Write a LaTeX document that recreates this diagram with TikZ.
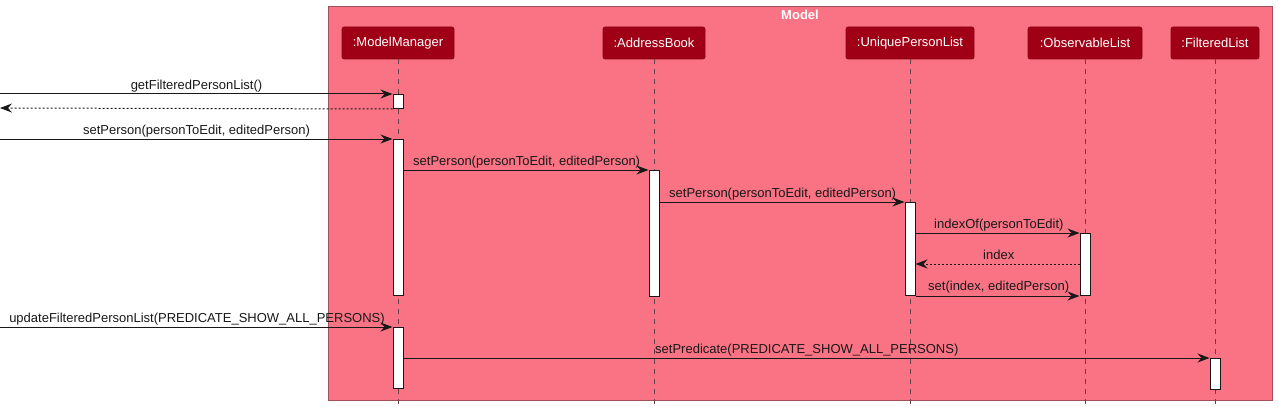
\documentclass[tikz,border=0pt]{standalone}
\usepackage{fontspec}
\setmainfont{Liberation Sans}
\usetikzlibrary{arrows.meta}
\definecolor{framefill}{HTML}{FA7384}
\definecolor{frameborder}{HTML}{A0505A}
\definecolor{partfill}{HTML}{A00016}
\definecolor{partborder}{HTML}{8A0012}
\definecolor{lineclr}{HTML}{181818}
\definecolor{lifeclr}{HTML}{6A4048}
\begin{document}
\begin{tikzpicture}[x=1pt,y=-1pt,
  font=\fontsize{13}{15}\selectfont,
  every node/.style={inner sep=0pt},
  part/.style={draw=partborder, fill=partfill, text=white, rounded corners=2pt, minimum height=32pt, line width=0.6pt},
  lifeline/.style={draw=lifeclr, line width=0.8pt, dash pattern=on 5pt off 5pt},
  actbar/.style={draw=lineclr, fill=white, minimum width=10pt, anchor=north, line width=1pt},
  msg/.style={draw=lineclr, line width=1pt, -{Stealth[length=12pt,width=9pt,inset=4pt]}},
  retmsg/.style={msg, dash pattern=on 2pt off 2pt},
  lbl/.style={text=lineclr, anchor=base west},
  clbl/.style={text=lineclr, anchor=base}]
\useasboundingbox (0,0) rectangle (1278,412);
% frame
\node[draw=frameborder, fill=framefill, line width=0.8pt, minimum width=944pt, minimum height=394pt, anchor=north west] (frame) at (328,6) {};
\node[text=white, font=\fontsize{13}{15}\selectfont\bfseries, anchor=base] (title) at (800,20) {Model};
% participants
\node[part, minimum width=112pt] (mm) at (398,43) {:ModelManager};
\node[part, minimum width=102pt] (ab) at (654,43) {:AddressBook};
\node[part, minimum width=128pt] (upl) at (910,43) {:UniquePersonList};
\node[part, minimum width=114pt] (ol) at (1085,43) {:ObservableList};
\node[part, minimum width=88pt] (fl) at (1215,43) {:FilteredList};
% lifelines
\coordinate (bot) at (0,406);
\foreach \p in {mm,ab,upl,ol,fl} {\draw[lifeline] (\p.south) -- (\p.south |- bot);}
% activation bars
\node[actbar, minimum height=14pt] (mm1) at (398,94) {};
\node[actbar, minimum height=156pt] (mm2) at (398,139) {};
\node[actbar, minimum height=61pt] (mm3) at (398,327) {};
\node[actbar, minimum height=126pt] (ab1) at (654,170) {};
\node[actbar, minimum height=93pt] (upl1) at (910,202) {};
\node[actbar, minimum height=62pt] (ol1) at (1085,233) {};
\node[actbar, minimum height=31pt] (fl1) at (1215,358) {};
% free ends
\coordinate (s1) at (0,94);
\coordinate (s2) at (0,108);
\coordinate (s3) at (0,139);
\coordinate (s9) at (0,327);
\coordinate (r7) at (0,264);
% messages
\draw[msg] (s1) -- (mm1.north west);
\draw[retmsg] (mm1.south west) -- (s2);
\draw[msg] (s3) -- (mm2.north west);
\draw[msg] (ab1.north west -| mm2.east) -- (ab1.north west);
\draw[msg] (upl1.north west -| ab1.east) -- (upl1.north west);
\draw[msg] (ol1.north west -| upl1.east) -- (ol1.north west);
\draw[retmsg] (ol1.west |- r7) -- (upl1.east |- r7);
\draw[msg] (upl1.south east) -- (ol1.south west);
\draw[msg] (s9) -- (mm3.north west);
\draw[msg] (fl1.north west -| mm3.east) -- (fl1.north west);
% labels
\node[clbl] (t1) at (196.5,89) {getFilteredPersonList()};
\node[clbl] (t3) at (196.5,134) {setPerson(personToEdit, editedPerson)};
\node[lbl] (t4) at (413,165) {setPerson(personToEdit, editedPerson)};
\node[lbl] (t5) at (669,197) {setPerson(personToEdit, editedPerson)};
\node[lbl] (t6) at (934,228) {indexOf(personToEdit)};
\node[lbl] (t7) at (983,259) {index};
\node[lbl] (t8) at (928,290) {set(index, editedPerson)};
\node[clbl] (t9) at (197,322) {updateFilteredPersonList(PREDICATE\_SHOW\_ALL\_PERSONS)};
\node[lbl] (t10) at (655,353) {setPredicate(PREDICATE\_SHOW\_ALL\_PERSONS)};
\end{tikzpicture}
\end{document}
